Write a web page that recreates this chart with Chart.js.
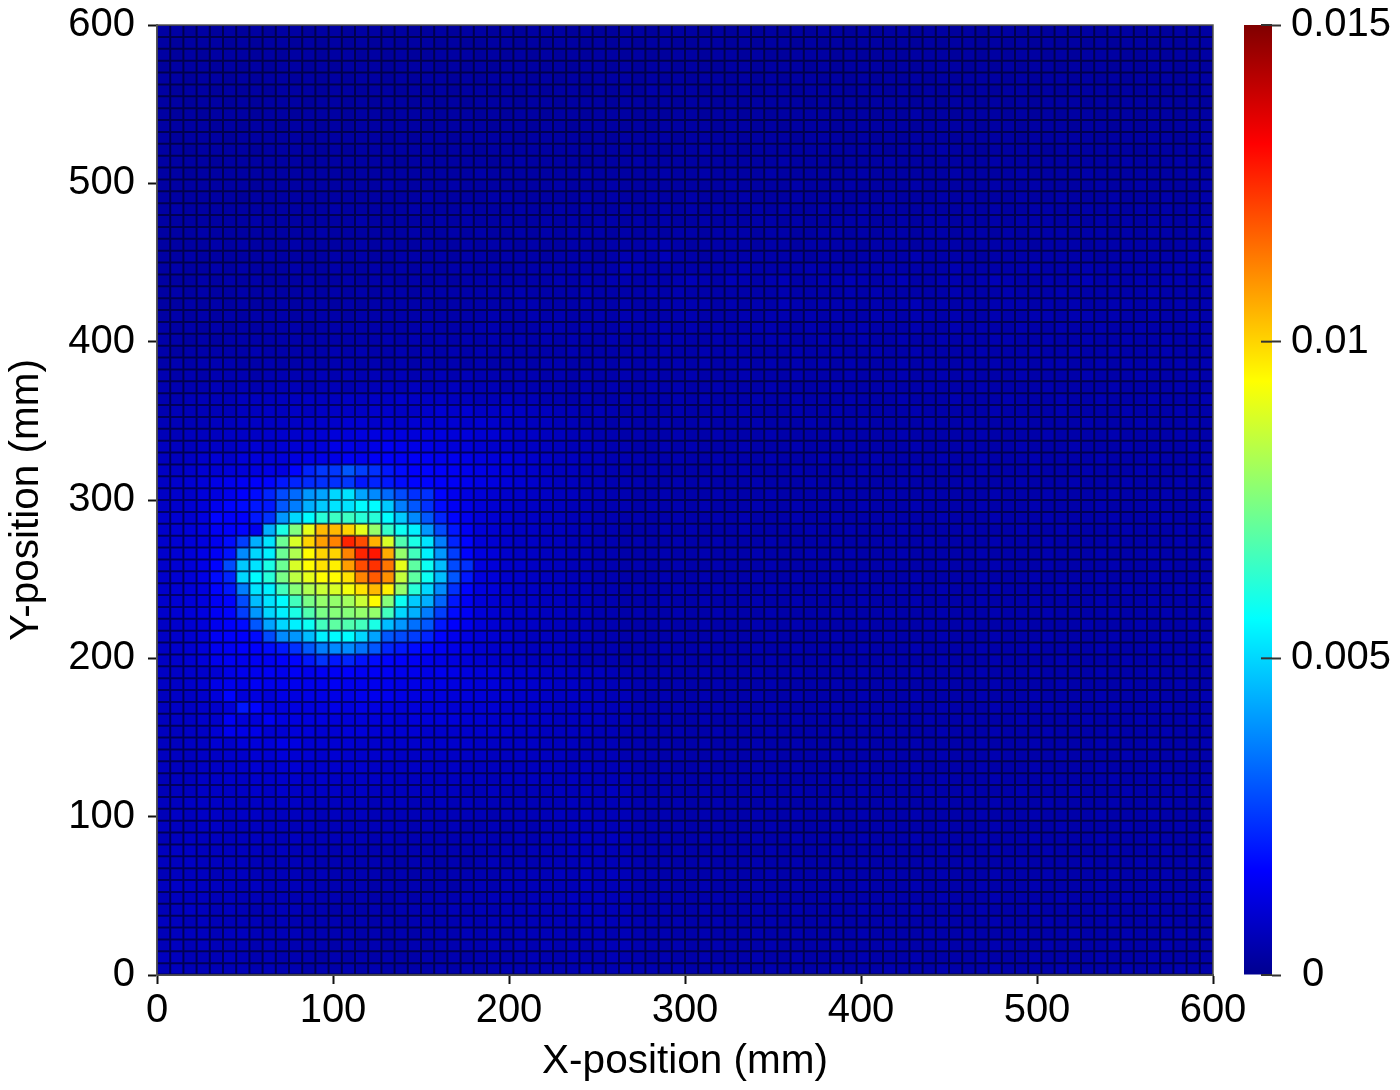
<!DOCTYPE html>
<html>
<head>
<meta charset="utf-8">
<style>
  html, body { margin: 0; background: #fff; }
  canvas { position: absolute; left: 0; top: 0; filter: blur(0.7px); }
</style>
<script src="https://cdn.jsdelivr.net/npm/chart.js@4"></script>
</head>
<body>
<canvas id="mapChart" width="1400" height="1090"></canvas>
<canvas id="barChart" width="1400" height="1090"></canvas>
<script>
// Heat map cells, top row first, 80 x 80, one base-36 digit per cell, unit 0.0001
const fieldRows = [
  "3323232323 3233233232 2323323233 3232233233 3232323232 3323233233 2323323232 3233232323",
  "3233323233 2323232323 3232233232 3323232332 2332323323 2323323232 3323232323 2323323233",
  "3232333232 3323323232 2333232323 2323323223 3233232233 3232232333 2323233232 3332232323",
  "2333232323 3232333233 3232323332 3233232332 3223323332 3233323233 3232323323 2323233232",
  "3323323233 2323233232 3323233323 2323332323 2332323233 2323232323 2333232332 3232323233",
  "3233232323 3323323323 2323323232 3323232433 3232323323 3323323232 3232332323 3323232323",
  "3323323233 3233232332 3232333233 2333233232 3323233332 3232333232 3323232333 2323323232",
  "3232333233 2333233233 3233232332 3323332323 3233232333 3323232423 2333232323 3233233233",
  "3333232332 3323233333 2333323323 3233323233 3323323233 3233333233 3323323332 3323232333",
  "3233323333 3233333232 3323333233 3323233332 3333233323 3323232333 2333323333 3233333233",
  "3323333233 3323233333 3233233333 3333333323 3433233333 3333323334 3323333233 3333233333",
  "3333233333 3233333323 3333323433 3323334333 3333333433 3233343333 3334333333 3334333433",
  "3323333333 3333233333 3333433333 3343333343 3433334333 3334333333 4333343333 4333333343",
  "3333333233 3333333433 3343333333 4333433333 3334333343 3343333433 3334334333 3433433334",
  "3333332333 3333333333 4333344333 3343433433 4333433343 3433343334 3433343343 3343334334",
  "3433333333 3334333334 3334333433 4343343343 4343343433 4334343343 3434334433 4343434343",
  "3333333433 3333343333 3434334334 3434434343 3434344343 3444334344 3434344434 3434344344",
  "3334333333 3343333334 3343433434 3444343434 4344434433 4434344344 3443434443 4434344344",
  "3333434333 4333343433 4334344343 3443444554 3444434434 4443444344 4344443444 3444443444",
  "3343333343 3334343344 3434434443 4443455464 4344444443 4434444544 4434444444 4344444454",
  "3433434333 4334334343 4344343444 4444465444 4444544445 4444454444 5444445444 5444444544",
  "3334343433 3433434434 3434444444 5454554545 6546545644 5565456445 5456544545 6454545545",
  "3434334343 3434343443 4444444544 4454444545 4444444544 4454544444 5444544454 4444454444",
  "3343434334 3443434444 4344444554 4454454455 5545454654 5554545645 4545554545 4455454545",
  "3434343444 3444344444 4444454454 5445455445 5444545545 4544554554 5445445545 5454454454",
  "4343434344 4344444444 5444554445 5454454554 5454455445 4455444544 5454454454 4544544454",
  "4434344444 4444444545 4545454545 4544544455 4454545544 5445445445 4545544544 5445445444",
  "4344444544 4445454454 5454545444 4544445454 4545444454 4544544544 4454445445 4454445444",
  "4545554454 4545545454 5454544545 5445454545 4544545454 5454445454 4545454554 4545454545",
  "5454555455 5565656565 5656555554 5454454544 5444544454 4454445445 4544454444 5444544454",
  "5555656566 6566566767 6676665655 5454544545 4454445444 4544454454 4454444544 4454444544",
  "5566667777 7877878898 8877667665 5454454445 4544454454 4454445444 5444544454 4544454445",
  "5666667787 8788889988 9a9a889877 6656545445 4454544454 4544444544 4445444454 4445444544",
  "6666778888 8999aa9a9a aaa9a98877 6655454454 4544454445 4445444454 4544454444 5444544454",
  "6677788899 9aabbccccb ccbbaa9887 7665545445 4454445444 4544445444 4454444544 4454444544",
  "7778889a9a abbddcdfed dcbba99887 7666554454 5444544454 4454444544 4544454445 4445444454",
  "7789a9bbbb cdddfefgff feedcbba98 7766555445 4454445444 5444544445 4454445444 4544454444",
  "889aabbcdc hmppuqokig hgfedcba98 7766554544 4454544454 4445444544 4454445444 5444544454",
  "89abdefghk mnoopkmkih hgfedcba98 7766555445 4544454445 4454445444 4544454445 4445444544",
  "899b000000 0000000000 0000ba9988 7766554454 4454445444 4544454454 4445444544 4454445444",
  "89ab000000 0000000000 0000ba9887 7665554545 4544454454 4445444544 4454445444 4544454445",
  "9aac000000 0000000000 0000ba9887 7665545445 4454544454 4544454445 4445444544 4454445444",
  "9abc000000 0000000000 0000ba9887 7665544454 5444544445 4454445444 4544454454 4445444544",
  "9abc000000 0000000000 0000ba9887 7665545445 4454445444 4544454454 4445444544 4454444544",
  "9abd000000 0000000000 0000cb9887 7665544454 4544454445 4454445444 4454444544 4544454445",
  "9abd000000 0000000000 0000cb9987 7665545445 4454445444 4544454445 4445444544 4454445444",
  "9abd000000 0000000000 0000cb9987 7665544454 4544454454 4445444544 4454445444 4544454444",
  "9abc000000 0000000000 0000cb9887 7665545445 4454445444 4544454445 4445444454 4445444544",
  "9abc000000 0000000000 0000ba9887 7665544454 4544454454 4445444544 4454445444 4544454445",
  "9abc000000 0000000000 0000ba9887 7665545445 4454445444 4544454445 4445444544 4454445444",
  "89ab000000 0000000000 0000ba9887 7665544454 4544454454 4445444454 4544454444 5444544454",
  "89ab000000 0000000000 0000ba9877 7665545445 4454445444 4544454445 4445444544 4454445444",
  "89ab000000 0000000000 0000a99877 7655544454 4544454454 4445444544 4454445444 4544454445",
  "89ab000000 0000000000 0000a98877 7655545445 4454445444 4544454445 4445444454 4445444544",
  "8899adeefe feffgfffee dedcbba998 8777655454 4544454454 4445444544 4454445444 4544454444",
  "889adedfee eeefeeeedd ddccbbaa99 8877665545 4454445444 4544454445 4445444454 4445444544",
  "7889bhbcbd cddddeeedc ccbbbaa998 8877665454 4544454454 4445444544 4454445444 4544454445",
  "78899bkhcc cccdcdccbb bbaaaa9988 7777665545 4454445444 4544454445 4445444544 4454445444",
  "78899fbbfc cccbbbbbab bbbaa99988 7777665454 4544454454 4445444454 4544454444 5444544454",
  "7788aeddaa bbaabbaaaa 9999999887 7776655545 4454445444 4544454445 4445444544 4454445444",
  "7788a9bbbd caaaa99999 9999888887 7766655454 4544454454 4445444544 4454445444 4544454445",
  "7778899aab aa9a999988 8888877877 7666655545 4454445444 4544454445 4445444454 4445444544",
  "7778899a9a a999998888 8787777777 7676665454 4544454454 4445444544 4454445444 4544454444",
  "6778898999 9898888877 7777767777 6766665545 4454445444 4544454445 4445444544 4454445444",
  "6778888989 8888787777 7776676666 7676765454 4544454454 4445444454 4544454445 4445444544",
  "7788887888 8777776776 6767666666 6766665545 4454445444 4544454445 4445444544 4454445444",
  "6878878877 7767676666 6666656666 7676665454 4544454454 4445444544 4454445444 4544454444",
  "7778877777 6766666665 6565565656 6767665545 4454445444 4544454445 4445444454 4445444544",
  "6787777776 7666665655 5555655656 6676765454 4544454454 4445444544 4454445444 4544454445",
  "7887777767 6665655555 5555556566 6767665545 4454445444 4544454445 4445444544 4454445444",
  "7787777666 6655555545 5454565656 6676665454 4544454454 4445444454 4544454444 5444544454",
  "6777677666 6565555454 5455556666 7676765545 4454445444 4544454445 4445444544 4454445444",
  "7887776766 6655554545 4545656666 6676665454 4544454454 4445444544 4454445444 4544454445",
  "6777676666 5655454454 5556566566 6767665545 4454445444 4544454445 4445444454 4445444544",
  "6787676566 6554545455 5565656666 6676665454 4544454454 4445444544 4454445444 4544454444",
  "7767666656 5555454545 5556566666 6667665545 4454445444 4544454445 4445444544 4454445444",
  "6777677666 6555545454 5556565666 6566565454 4544454454 4445444454 4544454445 4445444544",
  "6767666565 5554545445 4555565656 5656665545 4454445444 4544454445 4445444544 4454445444",
  "7766676565 5545454544 5454555565 5655655454 4544454454 4445444544 4454445444 4544454444",
  "6766666565 5454545444 4545455555 5565565545 4454445444 4544454445 4445444454 4445444544",
  "6666566555 5544444444 4444545454 5454554454 4544454454 4445444544 4454445444 4544454444"
];
// Hot spot, rows 39-53, columns 4-23, same unit
const spotRows = [
  [12,14,16,18,22,28,33,40,42,50,52,42,38,33,28,24,24,17,14,12],
  [14,17,18,20,20,30,36,44,48,52,52,56,56,48,36,30,24,18,15,13],
  [17,16,16,20,24,40,50,56,62,65,65,62,62,56,48,38,30,22,17,14],
  [15,16,17,14,44,60,75,90,104,104,100,90,78,64,58,54,40,28,20,15],
  [14,18,26,44,52,72,88,100,108,112,126,120,105,88,68,60,52,36,22,17],
  [15,19,38,50,54,72,82,94,100,100,112,126,128,106,78,66,54,40,26,17],
  [17,28,48,52,60,72,88,94,98,96,108,120,124,114,90,70,58,46,28,24],
  [18,22,50,56,62,74,84,90,94,94,98,112,118,110,85,70,58,46,30,20],
  [17,20,36,52,54,66,76,82,86,88,92,98,104,96,78,62,50,38,24,17],
  [15,17,28,46,52,56,66,74,78,78,80,86,94,76,58,48,44,32,20,15],
  [15,17,26,40,50,54,60,68,74,76,76,78,78,66,50,44,36,26,18,15],
  [14,16,18,30,42,50,54,58,66,70,68,66,60,46,40,34,30,20,16,14],
  [15,16,16,18,28,38,40,46,54,56,56,50,42,30,28,26,22,17,14,12],
  [14,15,16,16,18,20,24,30,36,38,38,34,30,22,20,18,17,15,13,12],
  [14,15,14,15,15,16,17,20,24,20,22,19,18,17,16,15,14,13,12,11]
];
const spotFirstRow = 39;
const spotFirstCol = 4;
const cellSize = 7.5; // mm
const valueUnit = 0.0001;

const colorbarRange = [0, 0.015];
const colorbarTicks = [' 0', '0.005', '0.01', '0.015'];

// jet: position, r, g, b
const jetStops = [
  [0, 0, 0, 143], [0.11, 0, 0, 255], [0.375, 0, 255, 255],
  [0.625, 255, 255, 0], [0.875, 255, 0, 0], [1, 128, 0, 0]
];

const fieldCells = fieldRows.map(r => r.replace(/ /g, '').split('').map(c => parseInt(c, 36)));
spotRows.forEach((r, j) => r.forEach((v, i) => {
  fieldCells[spotFirstRow + j][spotFirstCol + i] = v;
}));

function jetColor(value, shade) {
  const t = Math.min(1, value / colorbarRange[1]);
  let k = 1;
  while (k < jetStops.length - 1 && t > jetStops[k][0]) k++;
  const a = jetStops[k - 1], b = jetStops[k];
  const f = (t - a[0]) / (b[0] - a[0]);
  const ch = n => Math.round((a[n] + (b[n] - a[n]) * f) * shade);
  return `rgb(${ch(1)},${ch(2)},${ch(3)})`;
}

const axisFont = { family: '"Liberation Sans", Arial, sans-serif', size: 40 };
const titleFont = { family: '"Liberation Sans", Arial, sans-serif', size: 40.5 };
const inkColor = '#000';

// dark backing shows through the cell seams, frame goes round the plot
const frame = {
  id: 'frame',
  beforeDatasetsDraw(chart) {
    const { ctx, chartArea: a } = chart;
    ctx.save();
    ctx.fillStyle = '#00004c';
    ctx.fillRect(a.left, a.top, a.right - a.left, a.bottom - a.top);
    ctx.restore();
  },
  afterDraw(chart) {
    const { ctx, chartArea: a } = chart;
    ctx.save();
    ctx.strokeStyle = '#555';
    ctx.lineWidth = 1.5;
    ctx.strokeRect(a.left, a.top, a.right - a.left, a.bottom - a.top);
    ctx.restore();
  }
};

new Chart(document.getElementById('mapChart'), {
  type: 'bar',
  data: {
    labels: fieldCells[0].map((_, i) => i),
    datasets: fieldCells.map((row, j) => ({
      data: row.map(() => [600 - cellSize * (j + 1), 600 - cellSize * j]),
      xAxisID: 'cells',
      yAxisID: 'y',
      backgroundColor: c => jetColor(fieldCells[j][c.dataIndex] * valueUnit, 1),
      borderColor: c => jetColor(fieldCells[j][c.dataIndex] * valueUnit, 0.5),
      borderWidth: 1,
      borderSkipped: false,
      inflateAmount: 0,
      barPercentage: 1,
      categoryPercentage: 1
    }))
  },
  options: {
    responsive: false,
    animation: false,
    events: [],
    layout: { padding: { left: 0, top: 25, right: 187, bottom: 0 } },
    plugins: { legend: { display: false }, tooltip: { enabled: false } },
    scales: {
      cells: { type: 'category', display: false, stacked: true, offset: true },
      x: {
        type: 'linear', position: 'bottom', min: 0, max: 600, offset: false,
        afterFit: s => { s.height = 115; s.paddingLeft = 0; s.paddingRight = 0; },
        grid: { offset: false, drawOnChartArea: false, tickLength: 9, tickColor: '#111', tickWidth: 2 },
        border: { color: '#333', width: 2 },
        ticks: { stepSize: 100, font: axisFont, color: inkColor, padding: 3, maxRotation: 0 },
        title: { display: true, text: 'X-position (mm)', font: titleFont, color: inkColor, padding: { top: 0, bottom: 4 } }
      },
      y: {
        type: 'linear', min: 0, max: 600,
        afterFit: s => { s.width = 157; s.paddingTop = 0; s.paddingBottom = 0; },
        grid: { drawOnChartArea: false, tickLength: 9, tickColor: '#111', tickWidth: 2 },
        border: { color: '#555', width: 2 },
        ticks: { stepSize: 100, font: axisFont, color: inkColor, padding: 13 },
        title: { display: true, text: 'Y-position (mm)', font: titleFont, color: inkColor, padding: { top: 3, bottom: 0 } }
      }
    }
  },
  plugins: [frame]
});

// inward half of the colour bar ticks
const innerTicks = {
  id: 'innerTicks',
  afterDraw(chart) {
    const { ctx, scales: { v }, chartArea: a } = chart;
    ctx.save();
    ctx.strokeStyle = '#333';
    ctx.lineWidth = 2;
    v.ticks.forEach(t => {
      const y = v.getPixelForValue(t.value);
      ctx.beginPath();
      ctx.moveTo(a.right - 11, y);
      ctx.lineTo(a.right, y);
      ctx.stroke();
    });
    ctx.restore();
  }
};

new Chart(document.getElementById('barChart'), {
  type: 'bar',
  data: {
    labels: ['value'],
    datasets: [{
      data: [colorbarRange],
      yAxisID: 'v',
      xAxisID: 'c',
      barPercentage: 1,
      categoryPercentage: 1,
      inflateAmount: 0,
      backgroundColor: c => {
        const a = c.chart.chartArea;
        if (!a) return '#000';
        const g = c.chart.ctx.createLinearGradient(0, a.bottom, 0, a.top);
        jetStops.forEach(s => g.addColorStop(s[0], `rgb(${s[1]},${s[2]},${s[3]})`));
        return g;
      }
    }]
  },
  options: {
    responsive: false,
    animation: false,
    events: [],
    layout: { padding: { left: 1244, top: 25, right: 0, bottom: 115 } },
    plugins: { legend: { display: false }, tooltip: { enabled: false } },
    scales: {
      c: { type: 'category', display: false },
      v: {
        position: 'right', min: colorbarRange[0], max: colorbarRange[1],
        afterFit: s => { s.width = 128; s.paddingTop = 0; s.paddingBottom = 0; },
        grid: { drawOnChartArea: false, tickLength: 9, tickColor: '#333', tickWidth: 2 },
        border: { display: false },
        ticks: {
          stepSize: 0.005, font: axisFont, color: inkColor, padding: 10,
          callback: (val, i) => colorbarTicks[i]
        }
      }
    }
  },
  plugins: [innerTicks]
});
</script>
</body>
</html>
